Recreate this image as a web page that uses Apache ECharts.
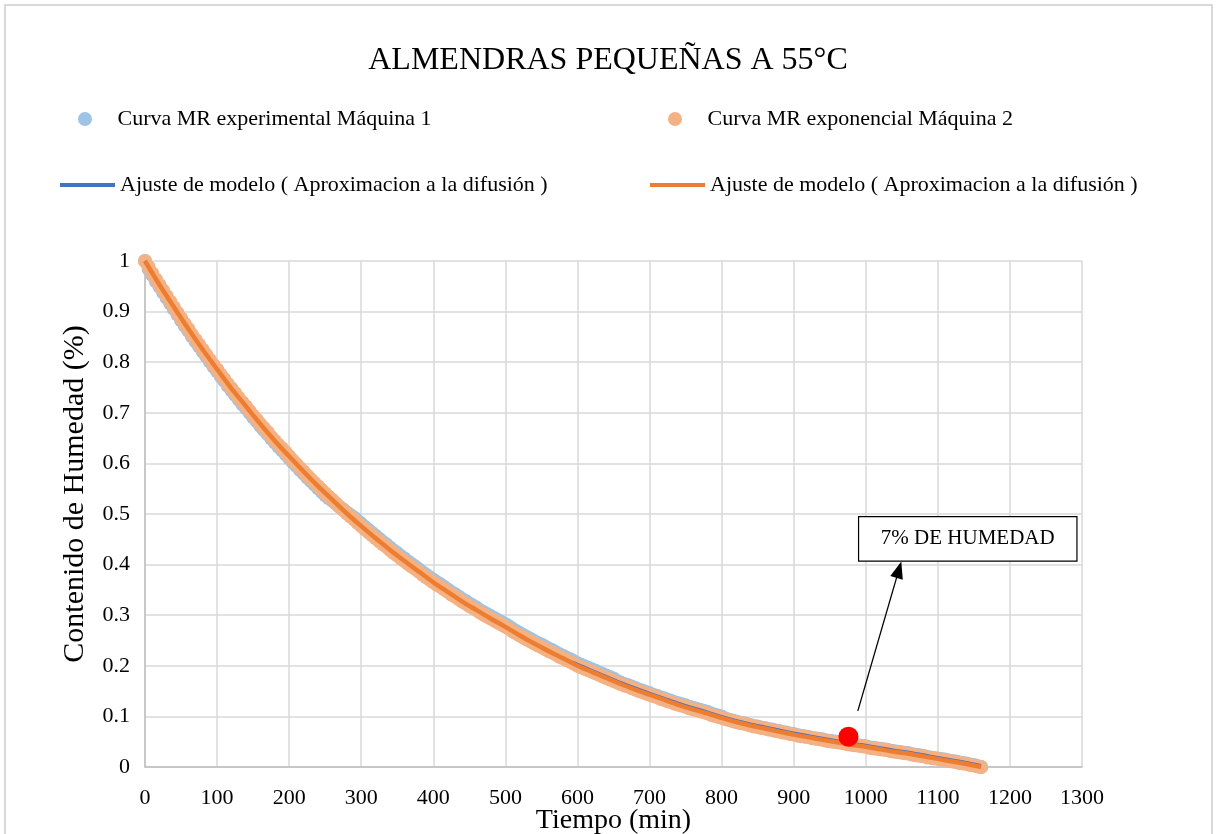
<!DOCTYPE html>
<html>
<head>
<meta charset="utf-8">
<script src="https://cdn.jsdelivr.net/npm/echarts@6/dist/echarts.min.js"></script>
<style>
html,body{margin:0;padding:0;background:#fff;}
#chart{width:1216px;height:834px;}
</style>
</head>
<body>
<div id="chart"></div>
<script>
// ---- data ----
const titleText = 'ALMENDRAS PEQUEÑAS A 55°C';
const nameExp1 = 'Curva MR experimental Máquina 1';
const nameExp2 = 'Curva MR exponencial Máquina 2';
const nameFit = 'Ajuste de modelo ( Aproximacion a la difusión )';
const xAxisName = 'Tiempo (min)';
const yAxisName = 'Contenido de Humedad (%)';
const noteText = '7% DE HUMEDAD';

// time (min) of the scatter samples
const times = [0,5,10,15,20,25,30,35,40,45,50,55,60,65,70,75,80,85,90,95,
100,105,110,115,120,125,130,135,140,145,150,155,160,165,170,175,180,185,190,195,
200,205,210,215,220,225,230,235,240,245,250,255,260,265,270,275,280,285,290,295,
300,305,310,315,320,325,330,335,340,345,350,355,360,365,370,375,380,385,390,395,
400,405,410,415,420,425,430,435,440,445,450,455,460,465,470,475,480,485,490,495,
500,505,510,515,520,525,530,535,540,545,550,555,560,565,570,575,580,585,590,595,
600,605,610,615,620,625,630,635,640,645,650,655,660,665,670,675,680,685,690,695,
700,705,710,715,720,725,730,735,740,745,750,755,760,765,770,775,780,785,790,795,
800,805,810,815,820,825,830,835,840,845,850,855,860,865,870,875,880,885,890,895,
900,905,910,915,920,925,930,935,940,945,950,955,960,965,970,975,980,985,990,995,
1000,1005,1010,1015,1020,1025,1030,1035,1040,1045,1050,1055,1060,1065,1070,1075,1080,1085,1090,1095,
1100,1105,1110,1115,1120,1125,1130,1135,1140,1145,1150,1155,1160];

// MR experimental, Máquina 1 (blue points)
const mrM1 = [1.000,0.984,0.972,0.960,0.949,0.938,0.927,0.916,0.905,0.894,
0.883,0.872,0.862,0.851,0.841,0.831,0.821,0.811,0.801,0.791,
0.782,0.772,0.763,0.753,0.744,0.735,0.726,0.717,0.709,0.700,
0.691,0.683,0.674,0.666,0.658,0.649,0.641,0.633,0.626,0.618,
0.610,0.602,0.595,0.587,0.580,0.572,0.565,0.558,0.551,0.544,
0.537,0.531,0.526,0.520,0.514,0.509,0.503,0.498,0.493,0.487,
0.481,0.475,0.469,0.463,0.457,0.451,0.445,0.440,0.434,0.428,
0.423,0.417,0.412,0.406,0.401,0.396,0.391,0.385,0.380,0.375,
0.370,0.365,0.361,0.356,0.351,0.346,0.342,0.337,0.332,0.328,
0.323,0.319,0.315,0.310,0.306,0.302,0.298,0.294,0.290,0.286,
0.282,0.278,0.273,0.269,0.265,0.261,0.257,0.253,0.249,0.245,
0.242,0.238,0.234,0.231,0.227,0.223,0.220,0.216,0.213,0.209,
0.205,0.202,0.199,0.196,0.193,0.190,0.187,0.184,0.181,0.178,
0.175,0.170,0.167,0.164,0.162,0.159,0.156,0.153,0.151,0.148,
0.146,0.143,0.141,0.138,0.136,0.133,0.131,0.128,0.126,0.124,
0.122,0.119,0.117,0.115,0.113,0.111,0.109,0.106,0.104,0.102,
0.100,0.096,0.094,0.092,0.090,0.088,0.087,0.085,0.083,0.081,
0.080,0.078,0.077,0.075,0.074,0.072,0.071,0.069,0.068,0.066,
0.065,0.063,0.062,0.061,0.060,0.058,0.057,0.056,0.055,0.053,
0.052,0.051,0.050,0.049,0.048,0.046,0.045,0.044,0.043,0.042,
0.041,0.039,0.038,0.037,0.036,0.035,0.034,0.032,0.031,0.030,
0.029,0.028,0.027,0.025,0.024,0.023,0.022,0.020,0.019,0.018,
0.017,0.016,0.015,0.013,0.012,0.011,0.009,0.008,0.007,0.005,
0.004,0.002,0.000];

// MR exponencial, Máquina 2 (orange points)
const mrM2 = [1.000,0.988,0.976,0.964,0.953,0.942,0.931,0.920,0.909,0.898,
0.887,0.876,0.866,0.855,0.845,0.835,0.825,0.815,0.805,0.795,
0.786,0.776,0.767,0.757,0.748,0.739,0.730,0.721,0.713,0.704,
0.695,0.687,0.678,0.670,0.662,0.653,0.645,0.637,0.630,0.622,
0.614,0.606,0.599,0.591,0.584,0.576,0.569,0.562,0.555,0.548,
0.541,0.534,0.528,0.521,0.514,0.508,0.501,0.495,0.489,0.482,
0.476,0.470,0.464,0.458,0.452,0.446,0.440,0.435,0.429,0.423,
0.418,0.412,0.407,0.401,0.396,0.391,0.386,0.380,0.375,0.370,
0.365,0.360,0.356,0.351,0.346,0.341,0.337,0.332,0.327,0.323,
0.318,0.314,0.310,0.305,0.301,0.297,0.293,0.289,0.285,0.281,
0.277,0.273,0.268,0.264,0.260,0.256,0.252,0.248,0.244,0.240,
0.237,0.233,0.229,0.226,0.222,0.218,0.215,0.211,0.208,0.204,
0.200,0.197,0.194,0.191,0.188,0.185,0.182,0.179,0.176,0.173,
0.170,0.167,0.164,0.161,0.159,0.156,0.153,0.150,0.148,0.145,
0.143,0.140,0.138,0.135,0.133,0.130,0.128,0.125,0.123,0.121,
0.119,0.116,0.114,0.112,0.110,0.108,0.106,0.103,0.101,0.099,
0.097,0.095,0.093,0.091,0.089,0.087,0.086,0.084,0.082,0.080,
0.079,0.077,0.076,0.074,0.073,0.071,0.070,0.068,0.067,0.065,
0.064,0.062,0.061,0.060,0.059,0.057,0.056,0.055,0.054,0.052,
0.051,0.050,0.049,0.048,0.047,0.045,0.044,0.043,0.042,0.041,
0.040,0.038,0.037,0.036,0.035,0.034,0.033,0.031,0.030,0.029,
0.028,0.027,0.026,0.024,0.023,0.022,0.021,0.019,0.018,0.017,
0.016,0.015,0.014,0.012,0.011,0.010,0.008,0.007,0.006,0.004,
0.003,0.001,0.000];

// model fit lines (diffusion approximation)
const fitTime = [0,20,40,60,80,100,120,140,160,180,200,220,240,260,280,300,320,340,360,380,
400,420,440,460,480,500,520,540,560,580,600,620,640,660,680,700,720,740,760,780,
800,820,840,860,880,900,920,940,960,980,1000,1020,1040,1060,1080,1100,1120,1140,1160];
const fitM1 = [1.000,0.953,0.909,0.866,0.825,0.786,0.748,0.713,0.678,0.645,
0.614,0.584,0.555,0.528,0.501,0.476,0.452,0.429,0.407,0.386,
0.365,0.346,0.327,0.310,0.293,0.277,0.260,0.244,0.229,0.215,
0.204,0.192,0.180,0.168,0.157,0.147,0.137,0.127,0.118,0.110,
0.101,0.093,0.086,0.080,0.074,0.068,0.063,0.058,0.053,0.048,
0.044,0.039,0.034,0.030,0.025,0.020,0.015,0.010,0.004];
const fitM2 = [1.000,0.953,0.909,0.866,0.825,0.786,0.748,0.713,0.678,0.645,
0.614,0.584,0.555,0.528,0.501,0.476,0.452,0.429,0.407,0.386,
0.365,0.346,0.327,0.310,0.293,0.277,0.260,0.244,0.229,0.215,
0.200,0.188,0.176,0.164,0.153,0.143,0.133,0.123,0.114,0.106,
0.097,0.089,0.082,0.076,0.070,0.064,0.059,0.054,0.049,0.044,
0.040,0.035,0.030,0.026,0.021,0.016,0.011,0.006,0.000];

// highlighted point and its note (data coordinates)
const markPoint = [976, 0.060];
const arrowFrom = [989, 0.111];
const arrowTo = [1046, 0.390];
const noteBox = [[990, 0.495], [1293, 0.407]];

// ---- chart ----
const FONT = '"Liberation Serif", "Times New Roman", serif';
const C_BLUE_PT = '#9DC3E6', C_ORANGE_PT = '#F4B183';
const C_BLUE_LN = '#4472C4', C_ORANGE_LN = '#ED7D31';

const chart = echarts.init(document.getElementById('chart'), null, {renderer: 'canvas'});
const legendText = {fontFamily: FONT, fontSize: 22, color: '#000'};
function legendAt(left, top, item, h) {
  return {left: left, top: top, orient: 'horizontal', itemWidth: 55, itemHeight: h, itemGap: 0,
    textStyle: legendText, selectedMode: false, data: [item],
    formatter: function (n) { return n.indexOf('fit') === 0 ? nameFit : n; }};
}
chart.setOption({
  animation: false,
  backgroundColor: '#fff',
  title: {text: titleText, left: 'center', top: 40,
    textStyle: {fontFamily: FONT, fontSize: 32, fontWeight: 'normal', color: '#000'}},
  graphic: [{type: 'rect', shape: {x: 5, y: 5, width: 1207, height: 860},
    style: {fill: 'none', stroke: '#D9D9D9', lineWidth: 2}, silent: true}],
  legend: [
    legendAt(73, 103, {name: nameExp1, icon: 'circle'}, 14),
    legendAt(663, 103, {name: nameExp2, icon: 'circle'}, 14),
    legendAt(55, 169, {name: 'fit1', icon: 'rect', itemStyle: {color: C_BLUE_LN}}, 4),
    legendAt(645, 169, {name: 'fit2', icon: 'rect', itemStyle: {color: C_ORANGE_LN}}, 4)
  ],
  grid: {left: 145, right: 134, top: 261, bottom: 67, containLabel: false, outerBoundsMode: 'none'},
  xAxis: {type: 'value', min: 0, max: 1300, interval: 100,
    name: xAxisName, nameLocation: 'middle', nameGap: 40, nameMoveOverlap: false,
    nameTextStyle: {fontFamily: FONT, fontSize: 28, color: '#000'},
    axisLine: {show: true, lineStyle: {color: '#BFBFBF', width: 1.5}},
    axisTick: {show: false},
    axisLabel: {fontFamily: FONT, fontSize: 22, color: '#000', margin: 20,
      formatter: function (v) { return String(v); }},
    splitLine: {show: true, lineStyle: {color: '#D9D9D9', width: 1.5}}},
  yAxis: {type: 'value', min: 0, max: 1, interval: 0.1,
    name: yAxisName, nameLocation: 'middle', nameGap: 55, nameMoveOverlap: false,
    nameTextStyle: {fontFamily: FONT, fontSize: 30, color: '#000', padding: [0, 0, 0, 40]},
    axisLine: {show: true, lineStyle: {color: '#BFBFBF', width: 1.5}},
    axisTick: {show: false},
    axisLabel: {fontFamily: FONT, fontSize: 22, color: '#000', margin: 15,
      formatter: function (v) { return String(Math.round(v * 10) / 10); }},
    splitLine: {show: true, lineStyle: {color: '#D9D9D9', width: 1.5}}},
  series: [
    {name: nameExp1, type: 'scatter', symbol: 'circle', symbolSize: 14,
      itemStyle: {color: C_BLUE_PT, opacity: 1}, silent: true, z: 2,
      data: times.map((t, i) => [t, mrM1[i]])},
    {name: nameExp2, type: 'scatter', symbol: 'circle', symbolSize: 14,
      itemStyle: {color: C_ORANGE_PT, opacity: 1}, silent: true, z: 3,
      data: times.map((t, i) => [t, mrM2[i]])},
    {name: 'fit1', type: 'line', showSymbol: false, symbol: 'none', smooth: 0.3,
      lineStyle: {color: C_BLUE_LN, width: 2}, itemStyle: {color: C_BLUE_LN}, silent: true, z: 4,
      data: fitTime.map((t, i) => [t, fitM1[i]])},
    {name: 'fit2', type: 'line', showSymbol: false, symbol: 'none', smooth: 0.3,
      lineStyle: {color: C_ORANGE_LN, width: 4.5}, itemStyle: {color: C_ORANGE_LN}, silent: true, z: 5,
      data: fitTime.map((t, i) => [t, fitM2[i]])},
    {name: 'punto', type: 'scatter', symbol: 'circle', symbolSize: 20,
      itemStyle: {color: '#FF0000', opacity: 1}, silent: true, z: 6,
      data: [markPoint],
      markLine: {silent: true, symbol: ['none', 'triangle'], symbolSize: [13, 17],
        lineStyle: {color: '#000', width: 1.3, type: 'solid'}, label: {show: false},
        data: [[{coord: arrowFrom}, {coord: arrowTo}]]},
      markArea: {silent: true,
        itemStyle: {color: '#fff', borderColor: '#000', borderWidth: 1.2, opacity: 1},
        label: {show: true, position: 'inside', formatter: noteText,
          fontFamily: FONT, fontSize: 21, color: '#000'},
        data: [[{coord: noteBox[0]}, {coord: noteBox[1]}]]}}
  ]
});
</script>
</body>
</html>
